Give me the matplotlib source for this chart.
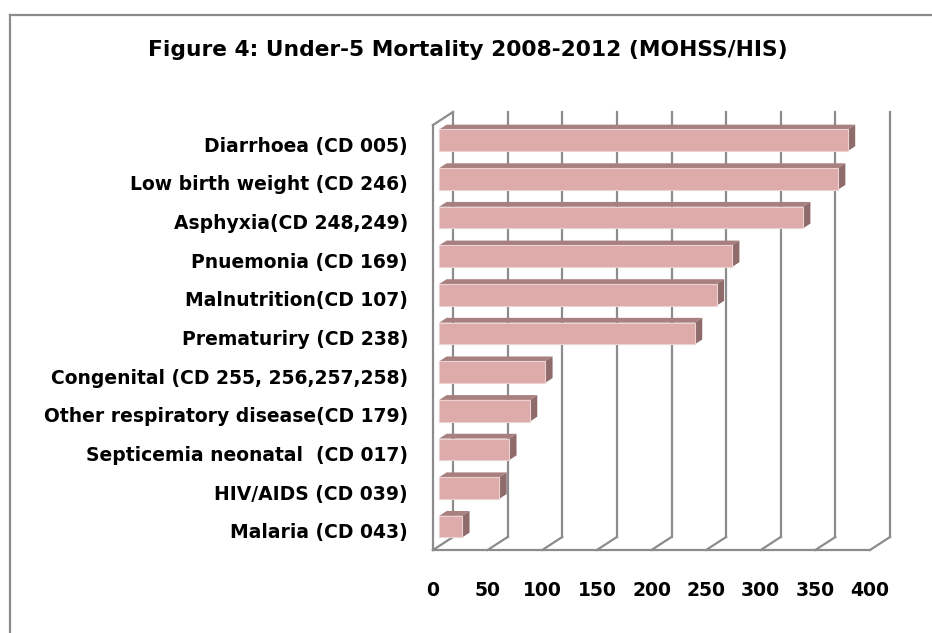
import numpy as np
import matplotlib
matplotlib.use("Agg")
import matplotlib.pyplot as plt
from matplotlib.patches import Polygon
from matplotlib.lines import Line2D
import matplotlib.transforms as mtransforms

categories = [
    "Diarrhoea (CD 005)",
    "Low birth weight (CD 246)",
    "Asphyxia(CD 248,249)",
    "Pnuemonia (CD 169)",
    "Malnutrition(CD 107)",
    "Prematuriry (CD 238)",
    "Congenital (CD 255, 256,257,258)",
    "Other respiratory disease(CD 179)",
    "Septicemia neonatal  (CD 017)",
    "HIV/AIDS (CD 039)",
    "Malaria (CD 043)",
]
values = [374, 365, 333, 268, 254, 234, 97, 83, 64, 55, 21]
xticks = [0, 50, 100, 150, 200, 250, 300, 350, 400]
title = "Figure 4: Under-5 Mortality 2008-2012 (MOHSS/HIS)"

plt.rcParams["font.family"] = ["DejaVu Sans"]

W, H, DPI = 932, 633, 100
fig = plt.figure(figsize=(W / DPI, H / DPI), dpi=DPI)
fig.patch.set_facecolor("white")

# front plane of the 3D plot area in pixels
L, R, T, B = 433, 870, 125, 550
ax = fig.add_axes([L / W, 1 - B / H, (R - L) / W, (B - T) / H])
ax.set_xlim(0, 400)
ax.set_ylim(len(categories) - 0.5, -0.5)
ax.patch.set_alpha(0)
for s in ax.spines.values():
    s.set_visible(False)

DEPTH = np.array([20.0, 13.0]) * fig.dpi / 100.0
ident = mtransforms.IdentityTransform()


def P(x, y, d):
    return ax.transData.transform((x, y)) + DEPTH * d


grid_c = "#8c8c8c"
glw = 1.6
y0, y1 = ax.get_ylim()  # bottom (10.5), top (-0.5)


def seg(a, b):
    fig.add_artist(Line2D([a[0], b[0]], [a[1], b[1]], color=grid_c, lw=glw,
                          transform=ident, zorder=1))


# back wall gridlines and floor diagonals
for t in xticks:
    seg(P(t, y0, 1), P(t, y1, 1))
    seg(P(t, y0, 0), P(t, y0, 1))
# floor front edge
seg(P(0, y0, 0), P(400, y0, 0))
# left wall front edge and top edge
seg(P(0, y0, 0), P(0, y1, 0))
seg(P(0, y1, 0), P(0, y1, 1))

# 3D bars
d0, d1 = 0.31, 0.68
hh = 0.28
front_c, top_c, side_c = "#dcabaa", "#a98080", "#8f6c6b"
for i, v in enumerate(values):
    top, bot = i - hh, i + hh
    pts = [P(0, top, d0), P(v, top, d0), P(v, top, d1), P(0, top, d1)]
    fig.add_artist(Polygon(pts, closed=True, facecolor=top_c, edgecolor="none",
                           transform=ident, zorder=3))
    pts = [P(v, top, d0), P(v, bot, d0), P(v, bot, d1), P(v, top, d1)]
    fig.add_artist(Polygon(pts, closed=True, facecolor=side_c, edgecolor="none",
                           transform=ident, zorder=3))
    pts = [P(0, top, d0), P(v, top, d0), P(v, bot, d0), P(0, bot, d0)]
    fig.add_artist(Polygon(pts, closed=True, facecolor=front_c, edgecolor="#ecd2d1",
                           lw=0.8, transform=ident, zorder=4))

# ticks and labels
ax.set_xticks(xticks)
ax.set_xticklabels([str(t) for t in xticks], fontsize=13.5, fontweight="bold")
ax.set_yticks(range(len(categories)))
ax.set_yticklabels(categories, fontsize=13.5, fontweight="bold")
ax.tick_params(axis="x", length=0, pad=22)
ax.tick_params(axis="y", length=0, pad=18)

fig.text(468 / W, 1 - 50 / H, title, ha="center", va="center", fontsize=15.7,
         fontweight="bold")

# outer chart border
fig.add_artist(Line2D([9.5 / W, 9.5 / W], [1 - 15 / H, 0], color="#8c8c8c", lw=1.6,
                      transform=fig.transFigure))
fig.add_artist(Line2D([9.5 / W, 1], [1 - 15 / H, 1 - 15 / H], color="#8c8c8c", lw=1.6,
                      transform=fig.transFigure))

fig.savefig("out.png", dpi=DPI)
